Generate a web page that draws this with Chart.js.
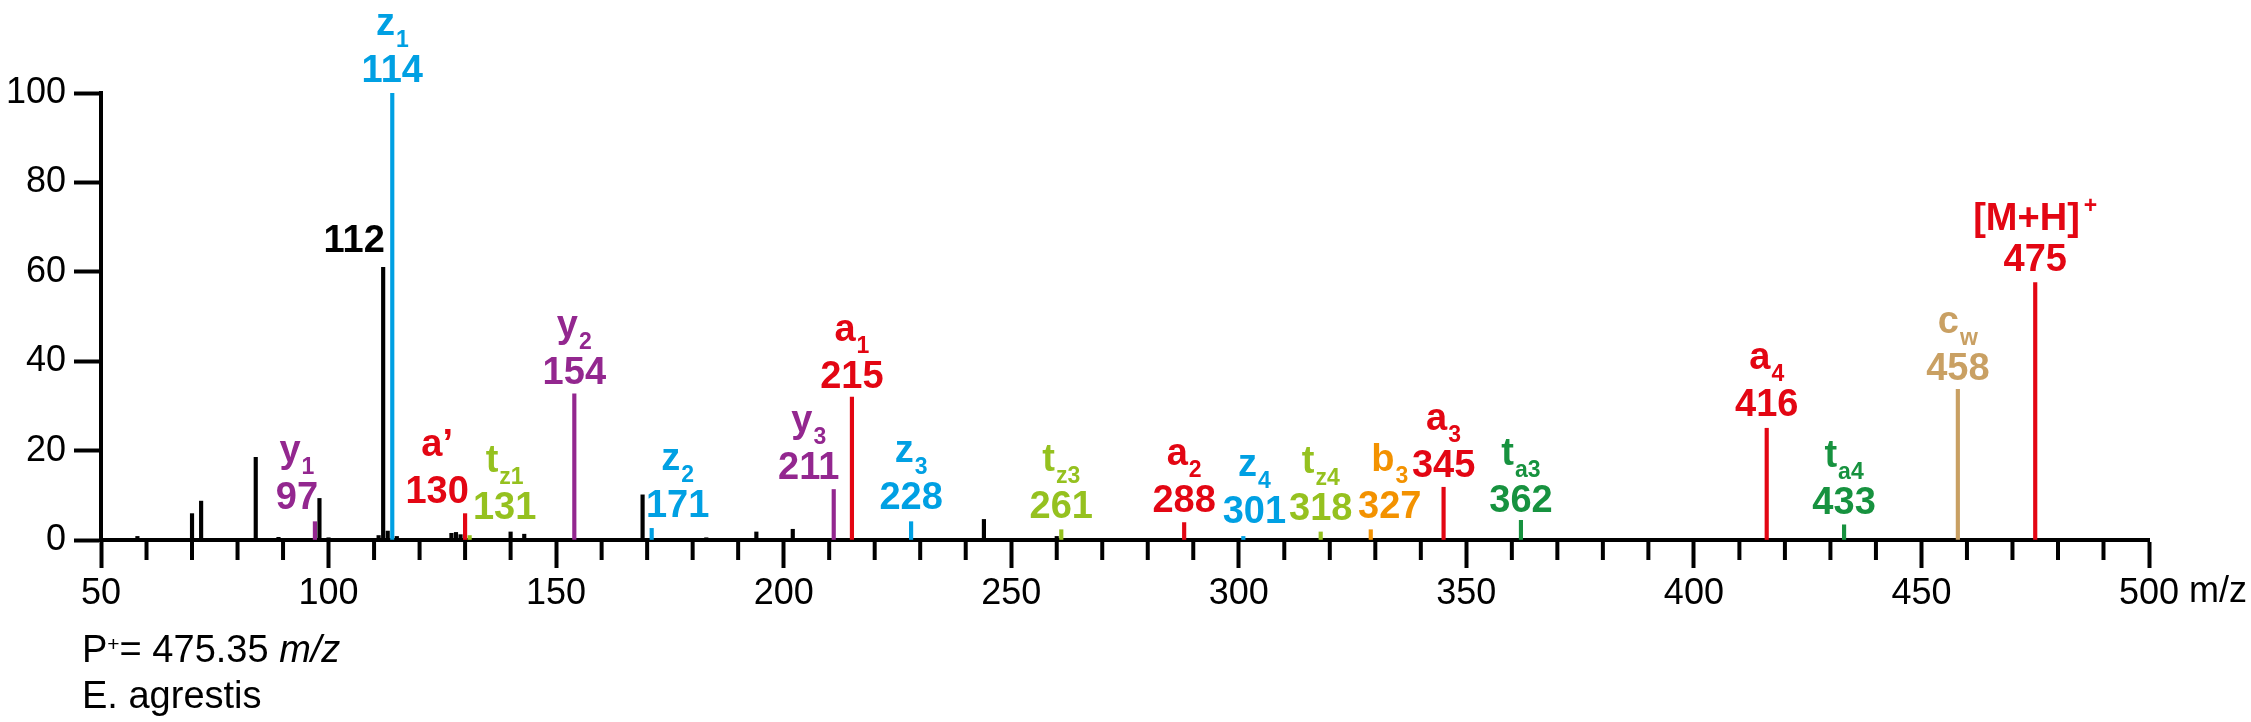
<!DOCTYPE html>
<html>
<head>
<meta charset="utf-8">
<script src="https://cdn.jsdelivr.net/npm/chart.js@4.4.1/dist/chart.umd.min.js"></script>
<style>
  html, body { margin: 0; padding: 0; background: #fff; }
  canvas { display: block; }
</style>
</head>
<body>
<canvas id="chart" width="2251" height="722"></canvas>
<script>
// unlabelled (black) peaks
const otherMz  = [58, 70, 72, 84, 89, 98, 100, 111, 113, 115, 127, 128, 129, 140, 143, 169, 183, 194, 202, 244, 260, 393];
const otherInt = [0.8, 5.9, 8.7, 18.5, 0.6, 9.3, 0.5, 1.0, 2.0, 0.8, 1.5, 1.7, 1.2, 1.8, 1.3, 10.1, 0.5, 1.8, 2.4, 4.6, 0.8, 0.3];

// labelled peaks
const ionMz     = [97, 112, 114, 130, 131, 154, 171, 211, 215, 228, 261, 288, 301, 318, 329, 345, 362, 416, 433, 458, 475];
const ionInt    = [4.1, 61.0, 100, 5.9, 1.0, 32.7, 2.6, 11.3, 32.0, 4.1, 2.3, 3.9, 0.8, 1.8, 2.3, 11.8, 4.4, 25.0, 3.4, 33.7, 57.6];
const ionSeries = ['y', 'none', 'z', 'a', 'tz', 'y', 'z', 'y', 'a', 'z', 'tz', 'a', 'z', 'tz', 'b', 'a', 'ta', 'a', 'ta', 'c', 'a'];
const ionName   = ['y', '', 'z', 'a’', 't', 'y', 'z', 'y', 'a', 'z', 't', 'a', 'z', 't', 'b', 'a', 't', 'a', 't', 'c', '[M+H]'];
const ionSub    = ['1', '', '1', '', 'z1', '2', '2', '3', '1', '3', 'z3', '2', '4', 'z4', '3', '3', 'a3', '4', 'a4', 'w', ''];
const ionSup    = ['', '', '', '', '', '', '', '', '', '', '', '', '', '', '', '', '', '', '', '', '+'];
const ionLabel  = ['97', '112', '114', '130', '131', '154', '171', '211', '215', '228', '261', '288', '301', '318', '327', '345', '362', '416', '433', '458', '475'];

const xTicks = [50, 100, 150, 200, 250, 300, 350, 400, 450, 500];
const yTicks = [0, 20, 40, 60, 80, 100];

// style / layout
const seriesColor = {
  none: '#000000', y: '#93278f', z: '#00a0e3', a: '#e30613',
  tz: '#95c11f', ta: '#17923f', b: '#f39200', c: '#c9a063'
};
const labelDx  = [-18, -29, 0, -28, 35, 0, 26, -25, 0, 0, 0, 0, 11, 0, 19, 0, 0, 0, 0, 0, 0];
const labelGap = [13, 15, 11, 11, 17, 10, 11, 10, 9, 13, 12, 11, 13, 12, 12, 10, 8, 12, 11, 9, 12];

const FONT = '"Liberation Sans", Arial, sans-serif';
Chart.defaults.font.family = FONT;
Chart.defaults.color = '#000';

const peakLabels = {
  id: 'peakLabels',
  afterDraw(chart) {
    const ctx = chart.ctx;
    const x = chart.scales.x, y = chart.scales.y;
    const axisY = chart.chartArea.bottom;
    ctx.save();

    // minor ticks every 10
    ctx.strokeStyle = '#000';
    ctx.lineWidth = 4;
    for (let v = 60; v < 500; v += 10) {
      if (v % 50 === 0) continue;
      const px = x.getPixelForValue(v);
      ctx.beginPath();
      ctx.moveTo(px, axisY);
      ctx.lineTo(px, axisY + 20);
      ctx.stroke();
    }

    // peak labels
    ctx.textBaseline = 'alphabetic';
    ionMz.forEach((mz, i) => {
      const px = x.getPixelForValue(mz) + labelDx[i];
      const base = y.getPixelForValue(ionInt[i]) - labelGap[i];
      ctx.fillStyle = seriesColor[ionSeries[i]];
      ctx.font = 'bold 38px ' + FONT;
      ctx.textAlign = 'center';
      ctx.fillText(ionLabel[i], px, base);
      if (!ionName[i]) return;
      const nw = ctx.measureText(ionName[i]).width;
      ctx.font = 'bold 23px ' + FONT;
      const sw = ionSub[i] ? ctx.measureText(ionSub[i]).width + 1 : 0;
      const pw = ionSup[i] ? ctx.measureText(ionSup[i]).width + 4 : 0;
      const start = px - (nw + sw + pw) / 2;
      const nb = base - (ionSup[i] ? 41 : 47);
      ctx.textAlign = 'left';
      ctx.font = 'bold 38px ' + FONT;
      ctx.fillText(ionName[i], start, nb);
      ctx.font = 'bold 23px ' + FONT;
      if (ionSub[i]) ctx.fillText(ionSub[i], start + nw + 1, nb + 12);
      if (ionSup[i]) ctx.fillText(ionSup[i], start + nw + 4, nb - 17);
    });

    // unit after the last tick label
    ctx.fillStyle = '#000';
    ctx.textAlign = 'left';
    ctx.font = '36px ' + FONT;
    const lastX = x.getPixelForValue(500) + ctx.measureText('500').width / 2;
    ctx.fillText(' m/z', lastX, 602);

    // notes
    let cx = 82;
    ctx.font = '38px ' + FONT;
    ctx.fillText('P', cx, 662);
    cx += ctx.measureText('P').width;
    ctx.font = '21px ' + FONT;
    ctx.fillText('+', cx, 651);
    cx += ctx.measureText('+').width;
    ctx.font = '38px ' + FONT;
    ctx.fillText('= 475.35 ', cx, 662);
    cx += ctx.measureText('= 475.35 ').width;
    ctx.font = 'italic 38px ' + FONT;
    ctx.fillText('m/z', cx, 662);
    ctx.font = '38px ' + FONT;
    ctx.fillText('E. agrestis', 82, 708);
    ctx.restore();
  }
};

const data = {
  datasets: [
    {
      label: 'other',
      data: otherMz.map((v, i) => ({ x: v, y: otherInt[i] })),
      backgroundColor: '#000',
      barThickness: 3.5,
      grouped: false,
    },
    {
      label: 'ions',
      data: ionMz.map((v, i) => ({ x: v, y: ionInt[i] })),
      backgroundColor: ionSeries.map(s => seriesColor[s]),
      barThickness: 3.5,
      grouped: false,
    },
  ],
};

const config = {
  type: 'bar',
  data: data,
  options: {
    responsive: false,
    animation: false,
    layout: { padding: { top: 93, right: 102, left: 0, bottom: 0 } },
    plugins: { legend: { display: false }, tooltip: { enabled: false } },
    scales: {
      x: {
        type: 'linear',
        min: 50,
        max: 500,
        offset: false,
        afterFit: (s) => { s.height = 182; },
        afterBuildTicks: (s) => { s.ticks = xTicks.map(v => ({ value: v })); },
        ticks: { font: { size: 36 }, padding: 4, maxRotation: 0, autoSkip: false },
        grid: { offset: false, drawOnChartArea: false, tickLength: 28, tickWidth: 4, tickColor: '#000' },
        border: { color: '#000', width: 4 },
      },
      y: {
        min: 0,
        max: 100,
        afterFit: (s) => { s.width = 101; },
        afterBuildTicks: (s) => { s.ticks = yTicks.map(v => ({ value: v })); },
        ticks: { font: { size: 36 }, padding: 8 },
        grid: { offset: false, drawOnChartArea: false, tickLength: 27, tickWidth: 4, tickColor: '#000' },
        border: { color: '#000', width: 4 },
      },
    },
  },
  plugins: [peakLabels],
};

const canvas = document.getElementById('chart').getContext('2d');
const chart = new Chart(canvas, config);
</script>
</body>
</html>
